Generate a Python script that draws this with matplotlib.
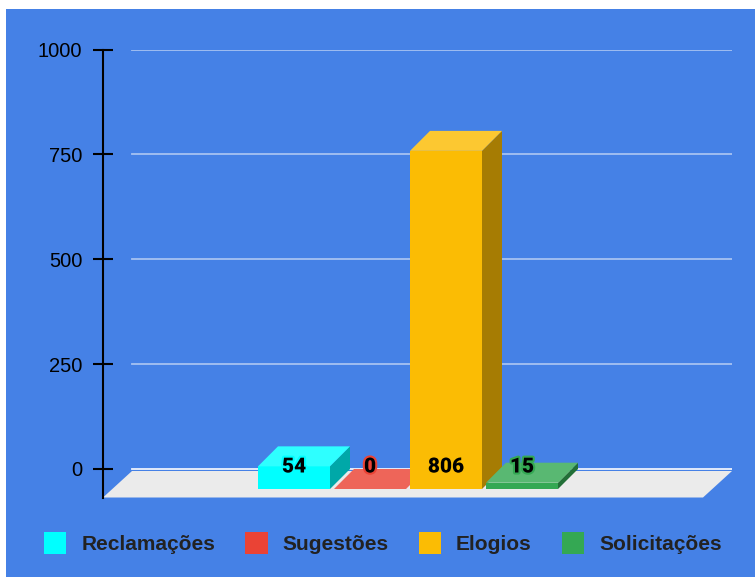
import matplotlib.pyplot as plt
from matplotlib.patches import Polygon, Rectangle
from matplotlib.colors import to_rgb
import matplotlib.patheffects as pe

plt.rcParams['font.family'] = ['Liberation Sans', 'DejaVu Sans']

categorias = ['Reclamações', 'Sugestões', 'Elogios', 'Solicitações']
valores = [54, 0, 806, 15]
cores = ['#00ffff', '#ea4335', '#fbbc04', '#34a853']
yticks = [0, 250, 500, 750, 1000]

def clarear(c, f=0.18):
    r, g, b = to_rgb(c)
    return (r + (1 - r) * f, g + (1 - g) * f, b + (1 - b) * f)

def escurecer(c, f=0.66):
    r, g, b = to_rgb(c)
    return (r * f, g * f, b * f)

W, H = 755, 577
fig = plt.figure(figsize=(W / 100, H / 100), dpi=100, facecolor='white')
fig.patches.append(Rectangle((6 / W, 0), 1 - 6 / W, 1 - 9 / H, transform=fig.transFigure,
                             facecolor='#4581e6', edgecolor='none', zorder=-10))

# posicao do eixo em pixels
ax_l, ax_r, ax_t, ax_b = 103, 732, 49.5, 497.5
zero_px = 469
ax = fig.add_axes([ax_l / W, 1 - ax_b / H, (ax_r - ax_l) / W, (ax_b - ax_t) / H])
ax.patch.set_alpha(0)
ppu = (zero_px - ax_t) / max(yticks)   # pixels por unidade
pitch = 76                              # pixels por categoria
first = 294
ax.set_xlim((ax_l - first) / pitch, (ax_r - first) / pitch)
ax.set_ylim(-(ax_b - zero_px) / ppu, max(yticks))
x0, x1 = ax.get_xlim()
y0 = ax.get_ylim()[0]

# piso
fdx = 29 / pitch
yback = -2 / ppu
ax.add_patch(Polygon([(x0, y0), (x1 - fdx, y0), (x1, yback), (x0 + fdx, yback)],
                     closed=True, facecolor='#ebebeb', edgecolor='none', zorder=1))

# grade
gx = 29 / (ax_r - ax_l)
for t in yticks:
    ax.axhline(t, xmin=gx, xmax=1, color='#eef3fd' if t == 0 else '#a6c2f2',
               lw=1.3, zorder=0.5 if t else 0.9)

# barras 3d
bw = 72 / pitch
dx = 20 / pitch
dy = 20 / ppu
for i, (v, c) in enumerate(zip(valores, cores)):
    xl, xr = i - bw / 2, i + bw / 2
    if v > 0:
        ax.add_patch(Polygon([(xr, -dy), (xr + dx, 0), (xr + dx, v), (xr, v - dy)],
                             facecolor=escurecer(c), edgecolor='none', zorder=3))
        ax.add_patch(Rectangle((xl, -dy), bw, v, facecolor=c, edgecolor='none', zorder=3))
    ax.add_patch(Polygon([(xl, v - dy), (xr, v - dy), (xr + dx, v), (xl + dx, v)],
                         facecolor=clarear(c), edgecolor='none', zorder=3))
    ax.annotate(str(v), xy=(i, 0), xytext=(0, 2), textcoords='offset pixels',
                ha='center', va='center', fontsize=15, fontweight='heavy',
                family=['Roboto', 'DejaVu Sans'], color='black', zorder=5,
                path_effects=[pe.withStroke(linewidth=3, foreground=c)])

for s in ['top', 'right', 'bottom']:
    ax.spines[s].set_visible(False)
ax.spines['left'].set_linewidth(1.5)
ax.set_xticks([])
ax.set_yticks(yticks)
ax.tick_params(axis='y', direction='inout', length=15, width=1.5, pad=7.5,
               labelsize=14.5, colors='black')

handles = [Rectangle((0, 0), 1, 1, facecolor=c, edgecolor='none') for c in cores]
fig.legend(handles, categorias, loc='center', bbox_to_anchor=(383 / W, 1 - 543 / H),
           ncol=4, frameon=False, prop={'size': 15, 'weight': 'bold'},
           handlelength=1.06, handleheight=1.3, handletextpad=0.72,
           columnspacing=1.45, labelcolor='#222222')

fig.savefig('out.png', dpi=100, facecolor=fig.get_facecolor())
